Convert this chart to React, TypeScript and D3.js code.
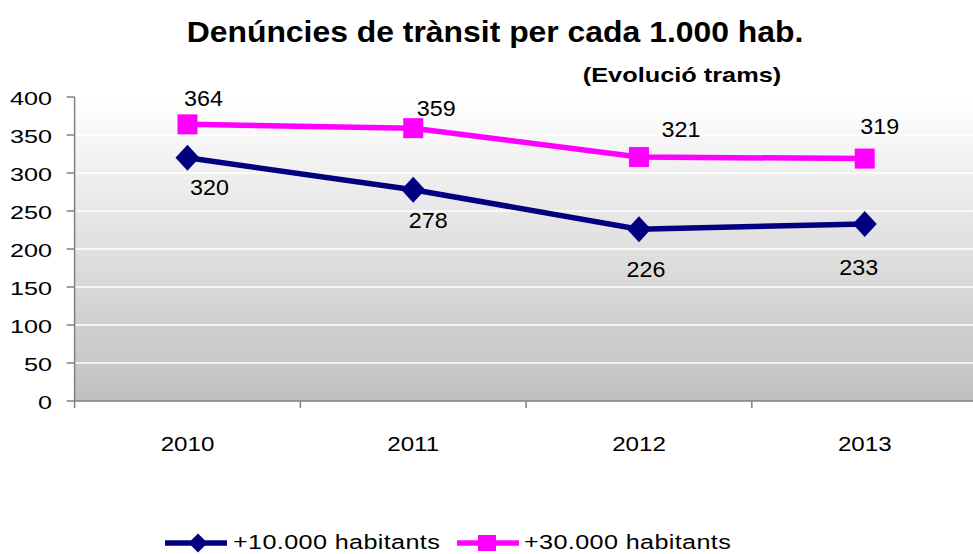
import React from 'react'
import * as d3 from 'd3'

const years = ['2010', '2011', '2012', '2013']
const seriesNames = ['+10.000 habitants', '+30.000 habitants']
const small = [320, 278, 226, 233]
const large = [364, 359, 321, 319]
const yTicks = [0, 50, 100, 150, 200, 250, 300, 350, 400]

const navy = '#000080'
const magenta = '#ff00ff'
const font = 'Arial, "Liberation Sans", sans-serif'

// the original picture has its text stretched sideways, so each label gets a horizontal scale
const Txt = (p: { x: number; y: number; size: number; sx: number; anchor?: string; bold?: boolean; ls?: number; children: any }) => (
    <text
        transform={`translate(${p.x},${p.y}) scale(${p.sx},1)`}
        textAnchor={p.anchor || 'start'}
        fontFamily={font}
        fontSize={p.size}
        fontWeight={p.bold ? 'bold' : 'normal'}
        letterSpacing={p.ls || 0}
        fill="#000"
    >{p.children}</text>
)

const App = () => {
    const width = 973, height = 554
    const left = 74.6, right = 977.6, top = 97, bottom = 401

    const x = d3.scaleBand().domain(years).range([left, right])
    const y = d3.scaleLinear().domain([0, 400]).range([bottom, top])
    const cx = (d: string) => (x(d) as number) + x.bandwidth() / 2

    const line = d3.line<number>()
        .x((_, i) => cx(years[i]))
        .y(d => y(d))

    const diamond = (px: number, py: number, rx: number, ry: number) =>
        `M${px},${py - ry}L${px + rx},${py}L${px},${py + ry}L${px - rx},${py}Z`

    // label offsets relative to the marker
    const smallDx = [22, 15, 7, -6]
    const smallDy = [37, 38, 48, 51]
    const largeDx = [16, 23, 42, 15]
    const largeDy = [-18, -12, -20, -25]

    return (
        <svg width={width} height={height} style={{ display: 'block', position: 'absolute', left: 0, top: 0 }}>
            <defs>
                <linearGradient id="bg" x1="0" y1="0" x2="0" y2="1">
                    <stop offset="0" stopColor="#ffffff" />
                    <stop offset="1" stopColor="#c0c0c0" />
                </linearGradient>
            </defs>
            <rect x={left} y={top} width={right - left} height={bottom - top} fill="url(#bg)" />
            {yTicks.filter(t => t > 0).map(t => (
                <line key={t} x1={left} x2={right} y1={y(t)} y2={y(t)} stroke="#ffffff" strokeWidth={1.5} />
            ))}
            {/* axes */}
            <line x1={left} x2={left} y1={top} y2={bottom + 7} stroke="#808080" strokeWidth={1.5} />
            <line x1={left} x2={right} y1={bottom} y2={bottom} stroke="#808080" strokeWidth={1.5} />
            {yTicks.map(t => (
                <g key={t}>
                    <line x1={left - 8} x2={left} y1={y(t)} y2={y(t)} stroke="#808080" strokeWidth={1.5} />
                    <Txt x={52} y={y(t) + 7.5} size={18} sx={1.4} anchor="end">{t}</Txt>
                </g>
            ))}
            {years.map((yr, i) => (
                <g key={yr}>
                    {i > 0 && <line x1={x(yr)} x2={x(yr)} y1={bottom} y2={bottom + 7} stroke="#808080" strokeWidth={1.5} />}
                    <Txt x={cx(yr)} y={451} size={21} sx={1.15} anchor="middle">{yr}</Txt>
                </g>
            ))}

            {/* series */}
            <path d={line(small) as string} fill="none" stroke={navy} strokeWidth={5.5} />
            <path d={line(large) as string} fill="none" stroke={magenta} strokeWidth={5.5} />
            {small.map((v, i) => (
                <g key={'s' + i}>
                    <path d={diamond(cx(years[i]), y(v), 12, 13)} fill={navy} />
                    <Txt x={cx(years[i]) + smallDx[i]} y={y(v) + smallDy[i]} size={22} sx={1.06} anchor="middle">{v}</Txt>
                </g>
            ))}
            {large.map((v, i) => (
                <g key={'l' + i}>
                    <rect x={cx(years[i]) - 10} y={y(v) - 10} width={20} height={20} fill={magenta} />
                    <Txt x={cx(years[i]) + largeDx[i]} y={y(v) + largeDy[i]} size={22} sx={1.06} anchor="middle">{v}</Txt>
                </g>
            ))}

            {/* titles */}
            <Txt x={495} y={41.5} size={29} sx={1.1} bold anchor="middle">Denúncies de trànsit per cada 1.000 hab.</Txt>
            <Txt x={682} y={82} size={19.5} sx={1.3} bold anchor="middle">(Evolució trams)</Txt>

            {/* legend */}
            <line x1={165} x2={227} y1={543} y2={543} stroke={navy} strokeWidth={5.5} />
            <path d={diamond(198, 543, 9.5, 9.5)} fill={navy} />
            <Txt x={233} y={549} size={21} sx={1.2} ls={0.3}>{seriesNames[0]}</Txt>
            <line x1={457} x2={519} y1={543} y2={543} stroke={magenta} strokeWidth={5.5} />
            <rect x={478} y={535} width={18} height={16} fill={magenta} />
            <Txt x={524} y={549} size={21} sx={1.2} ls={0.3}>{seriesNames[1]}</Txt>
        </svg>
    )
}

export default App
